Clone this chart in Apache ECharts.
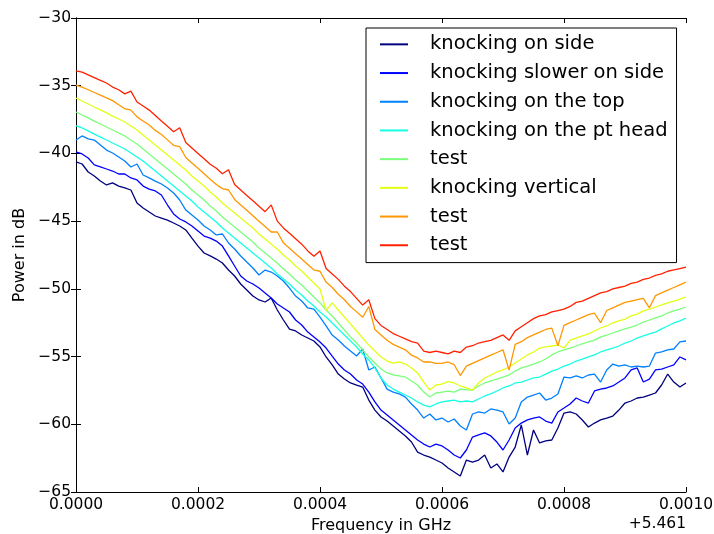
<!DOCTYPE html>
<html>
<head>
<meta charset="utf-8">
<script src="https://cdn.jsdelivr.net/npm/echarts/dist/echarts.min.js"></script>
<style>
html,body{margin:0;padding:0;background:#fff;}
#chart{width:714px;height:534px;}
</style>
</head>
<body>
<div id="chart"></div>
<script>
// Frequency offsets from 5.461 GHz, in kHz (converted to GHz below)
const freqKHz = [0,10,20,30,40,50,60,70,80,90,100,110,120,130,140,150,160,170,180,190,200,210,220,230,240,250,260,270,280,290,300,310,320,330,340,350,360,370,380,390,400,410,420,430,440,450,460,470,480,490,500,510,520,530,540,550,560,570,580,590,600,610,620,630,640,650,660,670,680,690,700,710,720,730,740,750,760,770,780,790,800,810,820,830,840,850,860,870,880,890,900,910,920,930,940,950,960,970,980,990,1000];

const seriesNames = ['knocking on side','knocking slower on side','knocking on the top','knocking on the pt head','test','knocking vertical','test ','test  '];
const seriesColors = ['#000080','#0000ff','#0080ff','#15ffe2','#7bff7b','#e2ff15','#ff9700','#ff2100'];

const knockingOnSide = [-40.63,-40.78,-41.37,-41.67,-42.04,-42.33,-42.18,-42.41,-42.55,-42.70,-43.66,-44.03,-44.32,-44.62,-44.77,-44.92,-45.14,-45.36,-45.65,-46.25,-46.84,-47.35,-47.57,-47.80,-48.09,-48.61,-49.05,-49.64,-50.08,-50.53,-50.82,-50.97,-50.67,-51.56,-52.30,-52.97,-53.11,-53.41,-53.63,-53.85,-54.29,-55.03,-55.62,-56.29,-56.66,-56.95,-57.10,-57.25,-58.21,-58.95,-59.46,-59.76,-60.13,-60.50,-60.86,-61.31,-62.05,-62.27,-62.42,-62.64,-62.86,-63.23,-63.52,-63.82,-62.64,-62.79,-62.64,-62.27,-63.23,-62.93,-63.52,-62.42,-61.68,-60.05,-62.27,-60.42,-61.38,-61.23,-61.16,-60.27,-59.17,-59.09,-59.24,-59.68,-60.20,-59.91,-59.68,-59.54,-59.39,-58.95,-58.43,-58.28,-58.06,-57.99,-57.84,-57.69,-57.10,-56.29,-56.88,-57.25,-56.95];

const knockingSlowerOnSide = [-39.89,-40.04,-40.34,-40.85,-41.00,-41.15,-41.30,-41.52,-41.52,-41.81,-41.96,-42.41,-42.63,-42.77,-43.07,-43.81,-44.47,-44.84,-45.06,-45.36,-45.73,-46.10,-46.25,-46.47,-46.84,-47.57,-48.31,-49.05,-49.42,-49.64,-49.94,-50.31,-50.67,-51.12,-51.41,-51.71,-52.30,-52.67,-53.19,-53.55,-53.92,-54.37,-54.96,-55.55,-55.99,-56.29,-56.73,-57.03,-57.62,-58.35,-58.95,-59.31,-59.68,-60.05,-60.42,-60.79,-61.16,-61.46,-61.68,-61.46,-61.60,-61.90,-62.27,-62.49,-61.90,-60.94,-60.79,-60.64,-60.86,-61.31,-61.90,-61.16,-60.27,-59.91,-59.68,-59.54,-59.46,-59.76,-59.91,-59.09,-58.80,-58.50,-58.06,-58.28,-58.43,-57.54,-57.40,-57.32,-57.17,-56.88,-56.58,-55.99,-55.84,-56.88,-56.66,-55.99,-55.92,-55.77,-55.62,-55.03,-55.25];

const knockingOnTheTop = [-39.01,-38.71,-38.93,-39.01,-39.38,-39.75,-39.97,-40.26,-40.56,-41.00,-40.78,-41.59,-41.81,-42.04,-42.26,-42.55,-42.92,-43.44,-44.18,-44.55,-44.92,-45.36,-45.65,-46.02,-45.95,-46.61,-47.06,-47.57,-48.02,-48.46,-48.98,-48.61,-48.76,-49.05,-49.42,-49.94,-50.53,-50.90,-51.41,-51.49,-52.08,-52.74,-53.41,-53.78,-54.22,-54.59,-54.96,-54.44,-55.99,-55.77,-56.58,-57.40,-57.62,-57.76,-57.99,-58.50,-58.95,-59.54,-59.24,-59.68,-59.54,-59.83,-59.61,-60.13,-60.42,-59.24,-59.09,-59.17,-58.87,-58.95,-59.09,-59.98,-59.54,-58.35,-57.99,-57.84,-57.69,-58.21,-58.06,-57.76,-56.51,-56.58,-56.43,-56.58,-56.36,-56.29,-56.88,-55.99,-55.55,-55.70,-55.62,-55.77,-55.70,-55.77,-55.70,-54.74,-54.66,-54.51,-54.44,-53.92,-53.85];

const knockingOnPtHead = [-37.97,-38.12,-38.34,-38.57,-38.79,-39.01,-39.23,-39.45,-39.67,-39.97,-40.26,-40.56,-40.93,-41.30,-41.67,-42.04,-42.41,-42.77,-43.14,-43.51,-43.96,-44.32,-44.69,-45.06,-45.51,-45.88,-46.25,-46.61,-46.98,-47.35,-47.72,-48.09,-48.46,-48.90,-49.27,-49.64,-50.08,-50.45,-50.90,-51.27,-51.71,-52.08,-52.52,-52.97,-53.41,-53.85,-54.29,-54.81,-55.25,-55.84,-56.58,-57.10,-57.40,-57.62,-57.84,-58.06,-58.35,-58.58,-58.72,-58.50,-58.35,-58.28,-58.21,-58.35,-58.28,-58.35,-58.13,-57.91,-57.76,-57.54,-57.32,-57.17,-56.95,-56.88,-56.73,-56.58,-56.51,-56.29,-56.07,-55.92,-55.70,-55.55,-55.33,-55.18,-55.03,-54.88,-54.66,-54.51,-54.37,-54.22,-54.00,-53.85,-53.63,-53.48,-53.33,-53.19,-52.96,-52.74,-52.52,-52.37,-52.15];

const testA = [-36.94,-37.16,-37.38,-37.61,-37.83,-38.05,-38.27,-38.49,-38.71,-39.01,-39.30,-39.67,-40.04,-40.41,-40.78,-41.15,-41.52,-41.89,-42.26,-42.70,-43.07,-43.44,-43.88,-44.25,-44.69,-45.06,-45.43,-45.80,-46.17,-46.54,-46.98,-47.35,-47.72,-48.09,-48.53,-48.90,-49.35,-49.72,-50.16,-50.60,-51.04,-51.56,-52.00,-52.52,-53.04,-53.55,-54.00,-54.51,-55.03,-55.48,-55.92,-56.21,-56.36,-56.43,-56.51,-56.80,-57.10,-57.62,-57.99,-57.69,-57.62,-57.55,-57.62,-57.40,-57.45,-57.47,-57.17,-56.95,-56.80,-56.66,-56.51,-56.36,-56.07,-55.84,-55.70,-55.55,-55.40,-55.18,-54.88,-54.66,-54.51,-54.37,-54.22,-54.07,-53.92,-53.78,-53.55,-53.41,-53.26,-53.11,-52.96,-52.82,-52.67,-52.45,-52.30,-52.15,-52.00,-51.78,-51.63,-51.49,-51.34];

const knockingVertical = [-35.91,-36.13,-36.35,-36.57,-36.79,-37.01,-37.24,-37.46,-37.68,-37.97,-38.27,-38.64,-39.01,-39.38,-39.75,-40.12,-40.49,-40.85,-41.22,-41.67,-42.04,-42.41,-42.85,-43.22,-43.66,-44.03,-44.40,-44.77,-45.14,-45.51,-45.95,-46.32,-46.69,-47.06,-47.50,-47.87,-48.31,-48.68,-49.12,-49.57,-50.01,-51.60,-51.04,-51.56,-52.08,-52.59,-53.11,-53.63,-54.15,-54.59,-55.03,-55.33,-55.48,-55.40,-55.55,-55.84,-56.21,-56.88,-57.47,-57.10,-57.03,-56.85,-56.95,-57.17,-57.32,-57.47,-56.95,-56.58,-56.36,-56.14,-55.99,-55.77,-55.48,-55.18,-54.88,-54.66,-54.37,-54.29,-54.22,-54.15,-54.37,-53.78,-53.63,-53.48,-53.33,-53.11,-52.89,-52.74,-52.52,-52.37,-52.23,-52.00,-51.86,-51.63,-51.49,-51.34,-51.19,-51.04,-50.90,-50.75,-50.60];

const testB = [-34.95,-35.1,-35.3,-35.5,-35.7,-35.9,-36.1,-36.4,-36.7,-36.8,-37.3,-37.6,-37.9,-38.3,-38.6,-39.0,-39.4,-39.5,-40.3,-40.7,-41.1,-41.5,-41.9,-42.3,-42.6,-42.7,-43.4,-43.8,-44.2,-44.6,-45.0,-45.4,-45.8,-45.8,-46.6,-47.0,-47.4,-47.8,-48.2,-48.6,-48.7,-49.5,-49.9,-50.4,-50.8,-51.3,-51.7,-52.1,-51.3,-53.0,-53.4,-53.8,-54.1,-54.3,-54.5,-54.9,-55.1,-55.4,-55.4,-55.5,-55.5,-55.4,-55.6,-56.4,-55.7,-55.5,-55.3,-55.1,-54.9,-54.7,-54.5,-56.0,-54.1,-53.9,-53.6,-53.4,-53.2,-53.0,-52.9,-54.2,-52.7,-52.5,-52.3,-52.1,-51.9,-51.8,-52.5,-51.6,-51.4,-51.2,-51.0,-50.9,-50.8,-50.7,-51.4,-50.5,-50.3,-50.1,-49.9,-49.7,-49.5];

const testC = [-33.9,-34.0,-34.2,-34.4,-34.6,-34.8,-35.1,-35.3,-35.6,-35.4,-36.2,-36.5,-36.8,-37.2,-37.6,-38.0,-38.4,-38.1,-39.2,-39.6,-40.0,-40.4,-40.8,-41.1,-41.5,-41.2,-42.3,-42.7,-43.1,-43.5,-43.9,-44.3,-43.8,-45.0,-45.5,-45.9,-46.3,-46.7,-47.2,-47.6,-47.2,-48.5,-48.9,-49.3,-49.8,-50.2,-50.7,-51.2,-50.8,-52.2,-52.7,-53.0,-53.3,-53.5,-53.7,-53.9,-54.0,-54.6,-54.7,-54.6,-54.7,-54.8,-54.6,-54.7,-54.3,-54.2,-54.0,-53.9,-53.8,-53.6,-53.4,-53.8,-53.1,-52.8,-52.5,-52.2,-52.0,-51.9,-51.7,-51.6,-51.5,-51.3,-51.0,-50.9,-50.7,-50.5,-50.3,-50.2,-50.0,-49.9,-49.8,-49.6,-49.5,-49.3,-49.2,-49.0,-48.9,-48.7,-48.6,-48.5,-48.4];

const xTickValues = [0, 0.0002, 0.0004, 0.0006, 0.0008, 0.001];
const yTickValues = [-65, -60, -55, -50, -45, -40, -35, -30];
const offsetText = '+5.461';

const allSeries = [knockingOnSide, knockingSlowerOnSide, knockingOnTheTop, knockingOnPtHead, testA, knockingVertical, testB, testC];
const freqGHz = freqKHz.map(k => k / 1e6);

const FONT = 'DejaVu Sans';
const frameAxis = {
  axisLine: {show: true, lineStyle: {color: '#000', width: 1}},
  axisTick: {show: true, inside: true, length: 5, lineStyle: {color: '#000', width: 1}},
  splitLine: {show: false}
};

const chart = echarts.init(document.getElementById('chart'), null, {renderer: 'canvas'});
chart.setOption({
  animation: false,
  backgroundColor: '#fff',
  grid: {left: 76, top: 18, right: 28, bottom: 42, containLabel: false, outerBoundsMode: 'none'},
  xAxis: [
    Object.assign({
      type: 'value', position: 'bottom',
      min: xTickValues[0], max: xTickValues[xTickValues.length - 1], interval: 0.0002,
      name: 'Frequency in GHz', nameLocation: 'middle', nameGap: 25,
      nameTextStyle: {fontFamily: FONT, fontSize: 16, color: '#000'},
      axisLabel: {show: true, margin: 5, fontFamily: FONT, fontSize: 15.5, color: '#000',
        formatter: v => v.toFixed(4)}
    }, frameAxis),
    Object.assign({
      type: 'value', position: 'top',
      min: xTickValues[0], max: xTickValues[xTickValues.length - 1], interval: 0.0002,
      axisLabel: {show: false}
    }, frameAxis)
  ],
  yAxis: [
    Object.assign({
      type: 'value', position: 'left',
      min: yTickValues[0], max: yTickValues[yTickValues.length - 1], interval: 5,
      name: 'Power in dB', nameLocation: 'middle', nameGap: 40,
      nameTextStyle: {fontFamily: FONT, fontSize: 16, color: '#000'},
      axisLabel: {show: true, margin: 5, fontFamily: FONT, fontSize: 15.5, color: '#000',
        formatter: v => (v < 0 ? '\u2212' + (-v) : String(v))}
    }, frameAxis),
    Object.assign({
      type: 'value', position: 'right',
      min: yTickValues[0], max: yTickValues[yTickValues.length - 1], interval: 5,
      axisLabel: {show: false}
    }, frameAxis)
  ],
  legend: {
    show: true, orient: 'vertical', left: 366, top: 28,
    padding: [2, 9, 3, 14], itemGap: 0,
    itemWidth: 28, itemHeight: 2, icon: 'rect',
    borderColor: '#000', borderWidth: 1, borderRadius: 0, backgroundColor: '#fff',
    selectedMode: false,
    textStyle: {fontFamily: FONT, fontSize: 19.5, color: '#000', lineHeight: 28.7, padding: [0, 0, 0, 17]},
    data: seriesNames
  },
  graphic: [{
    type: 'text', right: 28, top: 516,
    style: {text: offsetText, font: '15.5px "DejaVu Sans"', fill: '#000'}
  }],
  series: allSeries.map((vals, s) => ({
    type: 'line', name: seriesNames[s],
    xAxisIndex: 0, yAxisIndex: 0,
    showSymbol: false, symbol: 'none',
    color: seriesColors[s],
    lineStyle: {color: seriesColors[s], width: 1.3},
    emphasis: {disabled: true},
    data: freqGHz.map((f, i) => [f, vals[i]])
  }))
});
</script>
</body>
</html>
